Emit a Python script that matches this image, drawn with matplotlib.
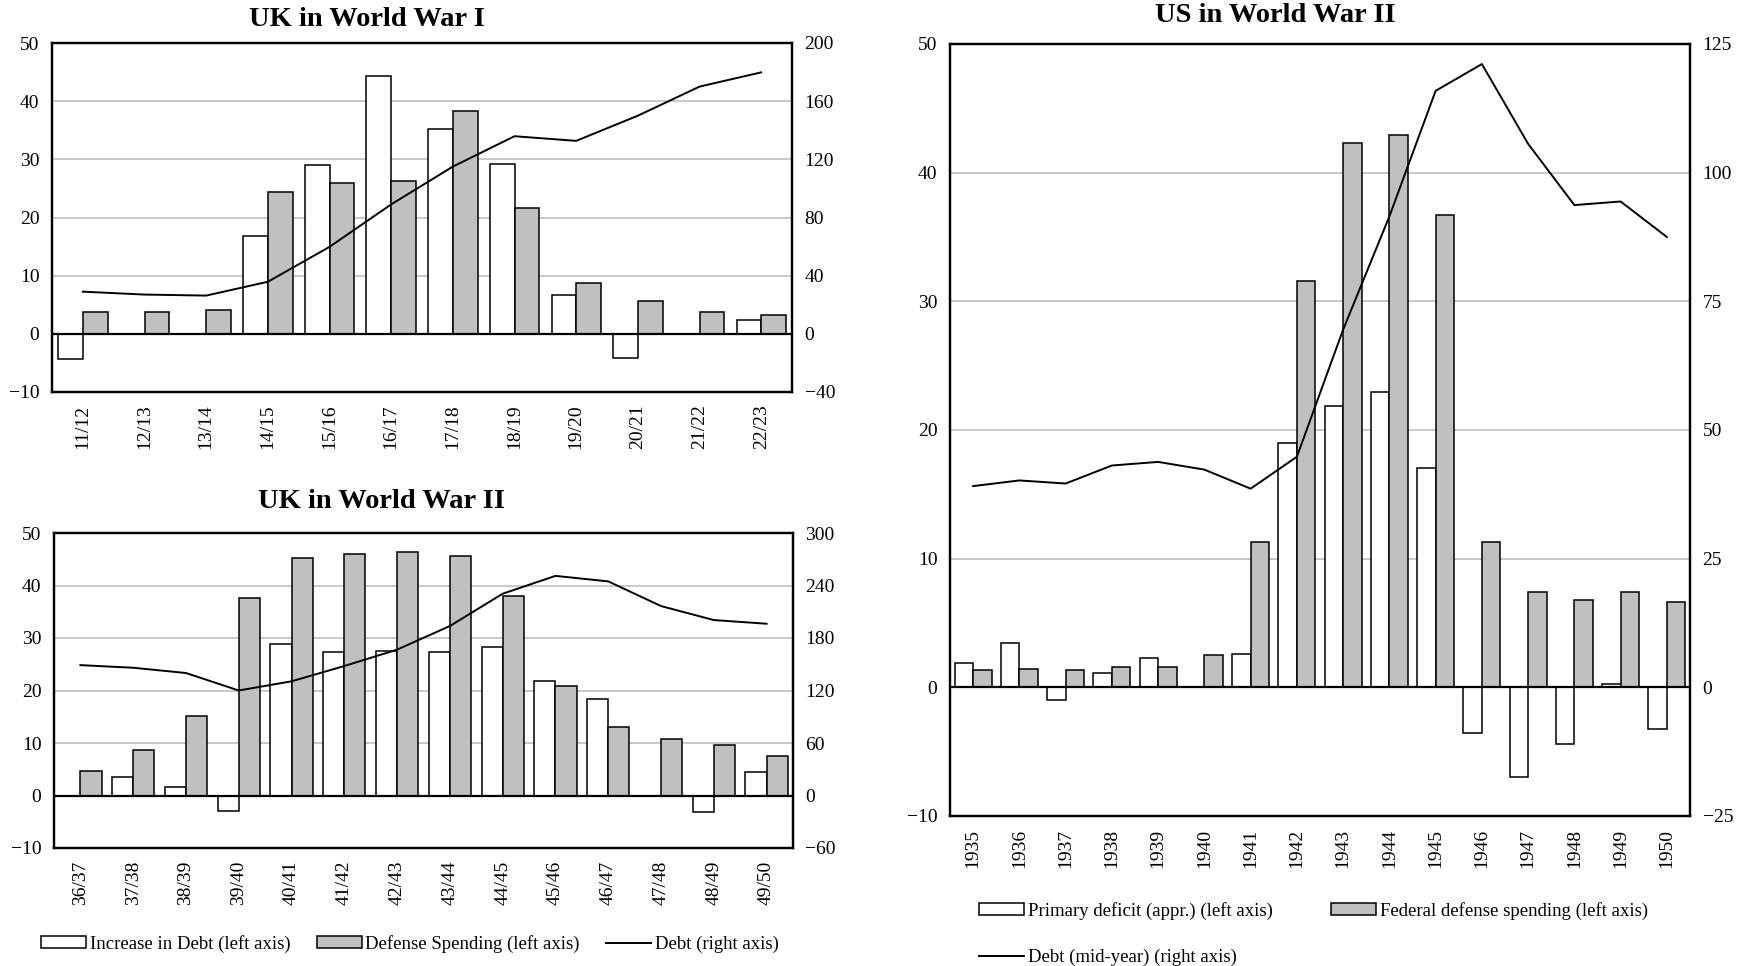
import matplotlib
matplotlib.use("Agg")
import matplotlib.pyplot as plt
import numpy as np

plt.rcParams['font.family'] = ['Liberation Serif', 'DejaVu Serif']
plt.rcParams['font.size'] = 13.5

# UK in World War I
ww1_years = ["11/12", "12/13", "13/14", "14/15", "15/16", "16/17",
             "17/18", "18/19", "19/20", "20/21", "21/22", "22/23"]
ww1_incr = [-4.3, 0, 0, 16.9, 29.1, 44.4, 35.2, 29.2, 6.7, -4.2, 0, 2.3]
ww1_def = [3.7, 3.8, 4.1, 24.3, 25.9, 26.3, 38.3, 21.7, 8.7, 5.6, 3.7, 3.2]
ww1_debt = [29.0, 27.0, 26.3, 35.8, 59.8, 89, 115, 135.9, 132.7, 150, 170, 179.8]

# UK in World War II
ww2_years = ["36/37", "37/38", "38/39", "39/40", "40/41", "41/42", "42/43",
             "43/44", "44/45", "45/46", "46/47", "47/48", "48/49", "49/50"]
ww2_incr = [0, 3.6, 1.6, -3.0, 28.8, 27.3, 27.6, 27.3, 28.2, 21.9, 18.4, 0, -3.2, 4.4]
ww2_def = [4.7, 8.6, 15.1, 37.7, 45.3, 46.0, 46.3, 45.6, 38.0, 20.8, 13.0, 10.8, 9.6, 7.5]
ww2_debt = [149, 146, 140, 120, 130.5, 148, 166.7, 193.7, 230.6, 251, 244.7,
            216.5, 200.5, 196.3]

# US in World War II
us_years = [str(y) for y in range(1935, 1951)]
us_deficit = [1.9, 3.42, -0.98, 1.14, 2.26, 0, 2.6, 18.96, 21.88, 22.95, 17.06,
              -3.58, -6.94, -4.38, 0.26, -3.26]
us_def = [1.35, 1.43, 1.38, 1.61, 1.61, 2.49, 11.27, 31.58, 42.33, 42.93, 36.71,
          11.27, 7.44, 6.76, 7.38, 6.63]
us_debt = [39.1, 40.2, 39.6, 43.1, 43.8, 42.3, 38.6, 44.8, 69.5, 91.5, 115.9,
           121.1, 105.6, 93.7, 94.4, 87.5]

GREY = "#c0c0c0"
W, H = 1739, 966


def panel(rect, years, incr, defense, debt, lticks, rticks, title, title_x, title_y):
    ax = fig.add_axes([rect[0] / W, 1 - rect[3] / H,
                       (rect[2] - rect[0]) / W, (rect[3] - rect[1]) / H])
    x = np.arange(len(years))
    b1 = ax.bar(x - 0.2, incr, 0.4, color="white", edgecolor="black", linewidth=1.1, zorder=3)
    b2 = ax.bar(x + 0.2, defense, 0.4, color=GREY, edgecolor="black", linewidth=1.1, zorder=3)
    ax.axhline(0, color="black", lw=1.6, zorder=4)
    ax.set_xlim(-0.5, len(years) - 0.5)
    ax.set_ylim(lticks[0], lticks[-1])
    ax.set_yticks(lticks)
    ax.yaxis.grid(True, color=GREY, lw=1.2, zorder=0)
    ax.set_axisbelow(True)
    ax.set_xticks(x)
    ax.set_xticklabels(years, rotation=90)
    ax.tick_params(length=0, pad=9, labelsize=14)
    ax2 = ax.twinx()
    ln, = ax2.plot(x, debt, color="black", lw=1.4, zorder=5)
    ax2.set_ylim(rticks[0], rticks[-1])
    ax2.set_yticks(rticks)
    ax2.tick_params(length=0, pad=9, labelsize=14)
    for a in (ax, ax2):
        for s in a.spines.values():
            s.set_linewidth(1.6)
    fig.text(title_x / W, 1 - title_y / H, title, ha="center", va="center",
             fontsize=20.5, fontweight="bold")
    return b1, b2, ln


fig = plt.figure(figsize=(W / 100, H / 100), dpi=100)

panel((52, 43, 792, 392), ww1_years, ww1_incr, ww1_def, ww1_debt,
      list(range(-10, 51, 10)), list(range(-40, 201, 40)),
      "UK in World War I", 367, 20)

h1, h2, h3 = panel((54, 533, 793, 848), ww2_years, ww2_incr, ww2_def, ww2_debt,
                   list(range(-10, 51, 10)), list(range(-60, 301, 60)),
                   "UK in World War II", 381, 502)

u1, u2, u3 = panel((950, 44, 1690, 816), us_years, us_deficit, us_def, us_debt,
                   list(range(-10, 51, 10)), list(range(-25, 126, 25)),
                   "US in World War II", 1275, 15)

fig.legend([h1, h2, h3],
           ["Increase in Debt (left axis)", "Defense Spending (left axis)", "Debt (right axis)"],
           loc="center left", bbox_to_anchor=(41 / W, 1 - 944 / H), ncol=3,
           frameon=False, borderpad=0, borderaxespad=0, handlelength=2.4,
           handleheight=0.6, handletextpad=0.2, columnspacing=1.4, fontsize=13.5)

fig.legend([u1, u3, u2],
           ["Primary deficit (appr.) (left axis)", "Debt (mid-year) (right axis)",
            "Federal defense spending (left axis)"],
           loc="upper left", bbox_to_anchor=(979 / W, 1 - 902 / H), ncol=2,
           frameon=False, borderpad=0, borderaxespad=0, handlelength=2.4,
           handleheight=0.6, handletextpad=0.2, columnspacing=3.1, labelspacing=1.55,
           fontsize=13.5)

fig.savefig("out.png", dpi=100)
